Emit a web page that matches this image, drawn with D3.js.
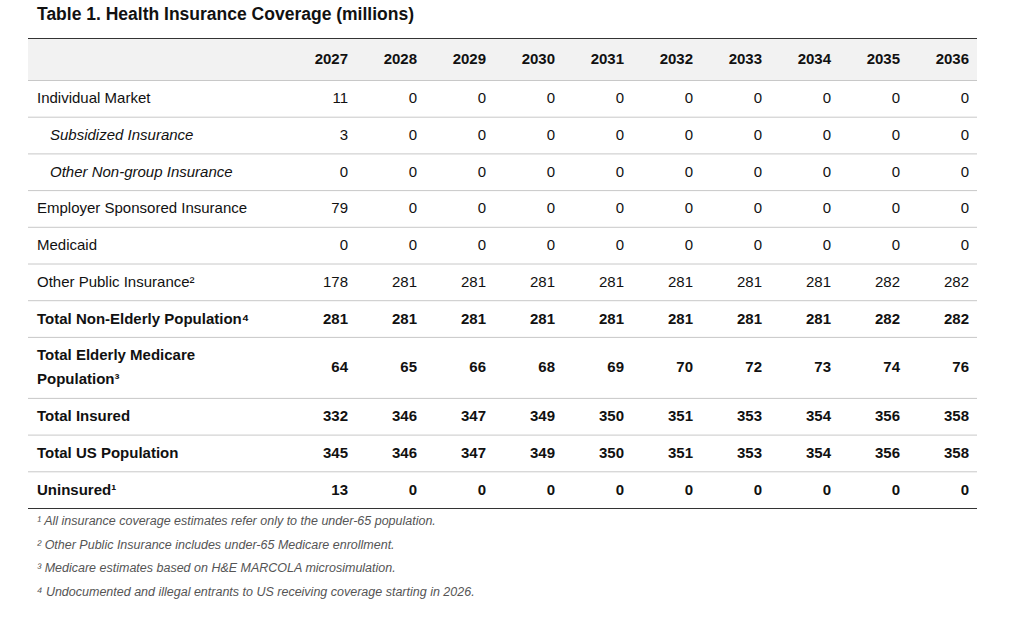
<!DOCTYPE html>
<html><head><meta charset="utf-8">
<script src="https://cdn.jsdelivr.net/npm/d3@7"></script>
<style>body{margin:0;background:#fff;font-family:"Liberation Sans",Arial,sans-serif;}</style>
</head><body><svg id="c" width="1020" height="618"></svg>
<script>
const years = [2027,2028,2029,2030,2031,2032,2033,2034,2035,2036];
const rowLabels = [
 ["Individual Market"],["Subsidized Insurance"],["Other Non-group Insurance"],["Employer Sponsored Insurance"],["Medicaid"],
 ["Other Public Insurance²"],["Total Non-Elderly Population⁴"],["Total Elderly Medicare","Population³"],["Total Insured"],["Total US Population"],["Uninsured¹"]];
const rowStyle = ["n","i","i","n","n","n","b","b","b","b","b"];
const values = [
 [11,0,0,0,0,0,0,0,0,0],
 [3,0,0,0,0,0,0,0,0,0],
 [0,0,0,0,0,0,0,0,0,0],
 [79,0,0,0,0,0,0,0,0,0],
 [0,0,0,0,0,0,0,0,0,0],
 [178,281,281,281,281,281,281,281,282,282],
 [281,281,281,281,281,281,281,281,282,282],
 [64,65,66,68,69,70,72,73,74,76],
 [332,346,347,349,350,351,353,354,356,358],
 [345,346,347,349,350,351,353,354,356,358],
 [13,0,0,0,0,0,0,0,0,0]];
const footnotes = ["¹ All insurance coverage estimates refer only to the under-65 population.",
 "² Other Public Insurance includes under-65 Medicare enrollment.",
 "³ Medicare estimates based on H&E MARCOLA microsimulation.",
 "⁴ Undocumented and illegal entrants to US receiving coverage starting in 2026."];

const svg = d3.select("#c");
const L=28,R=977;
svg.append("text").attr("x",37).attr("y",20).attr("font-size",17.5).attr("font-weight","bold").attr("fill","#111").text("Table 1. Health Insurance Coverage (millions)");
const x = d3.scaleLinear().domain([0,years.length-1]).range([348,969]);
// header
svg.append("rect").attr("x",L).attr("y",38).attr("width",R-L).attr("height",42).attr("fill","#f2f2f2");
svg.append("line").attr("x1",L).attr("x2",R).attr("y1",38.5).attr("y2",38.5).attr("stroke","#333").attr("stroke-width",1.2);
svg.selectAll(".yr").data(years).join("text").attr("x",(d,i)=>x(i)).attr("y",64).attr("text-anchor","end")
 .attr("font-size",15).attr("font-weight","bold").attr("fill","#111").text(d=>d);
// rows
const heights = rowLabels.map(l=>l.length>1?61:36.7);
let ys=[80]; heights.forEach(h=>ys.push(ys[ys.length-1]+h));
rowLabels.forEach((lab,r)=>{
  const y0=ys[r], y1=ys[r+1], cy=(y0+y1)/2, st=rowStyle[r];
  svg.append("line").attr("x1",L).attr("x2",R).attr("y1",y0+0.5).attr("y2",y0+0.5).attr("stroke","#c8c8c8");
  const t=svg.append("text").attr("x",st==="i"?50:37).attr("font-size",15).attr("fill","#111")
   .attr("font-weight",st==="b"?"bold":"normal").attr("font-style",st==="i"?"italic":"normal");
  lab.forEach((s,k)=>t.append("tspan").attr("x",st==="i"?50:37).attr("y",cy+5+(k-(lab.length-1)/2)*24).text(s));
  svg.selectAll(null).data(values[r]).join("text").attr("x",(d,i)=>x(i)).attr("y",cy+5).attr("text-anchor","end")
   .attr("font-size",15).attr("fill","#111").attr("font-weight",st==="b"?"bold":"normal").text(d=>d);
});
svg.append("line").attr("x1",L).attr("x2",R).attr("y1",ys[ys.length-1]+0.5).attr("y2",ys[ys.length-1]+0.5).attr("stroke","#333").attr("stroke-width",1.2);
svg.selectAll(".fn").data(footnotes).join("text").attr("x",37).attr("y",(d,i)=>525+i*23.5)
 .attr("font-size",12.5).attr("font-style","italic").attr("fill","#555").text(d=>d);
</script></body></html>
